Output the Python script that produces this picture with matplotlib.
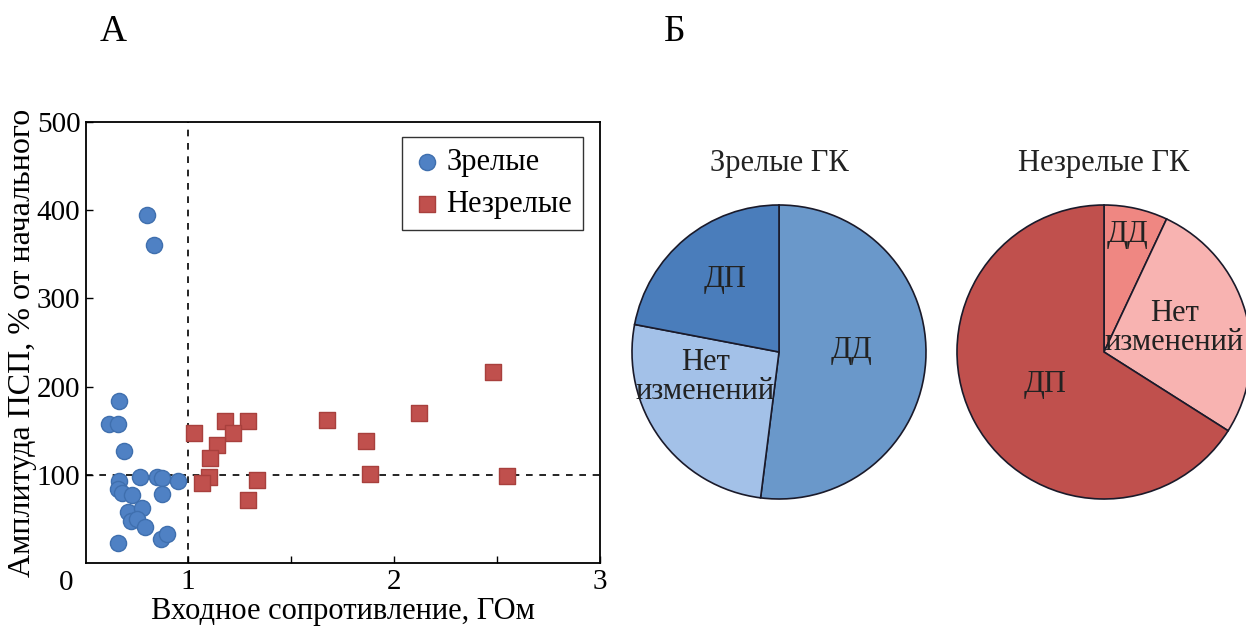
import matplotlib
matplotlib.use("Agg")
import matplotlib.pyplot as plt
from matplotlib.ticker import MultipleLocator

plt.rcParams['font.family'] = ['Liberation Serif', 'DejaVu Serif']

# ---- Data ----
mature_x = [0.80, 0.835, 0.665, 0.618, 0.662, 0.69, 0.665, 0.66, 0.68, 0.727, 0.767,
            0.851, 0.872, 0.872, 0.953, 0.71, 0.778, 0.723, 0.751, 0.791, 0.662, 0.868, 0.90]
mature_y = [395, 360, 184, 158, 158, 127, 93, 84, 79, 77, 98,
            97, 96, 78, 93, 58, 62, 48, 50, 41, 23, 27, 33]
immature_x = [1.029, 1.18, 1.29, 1.22, 1.139, 1.107, 1.103, 1.066, 1.333, 1.29,
              1.673, 1.862, 1.883, 2.123, 2.482, 2.547]
immature_y = [147, 161, 161, 147, 134, 119, 97, 91, 94, 71,
              162, 138, 101, 170, 216, 99]

xticks = [1, 2, 3]
yticks = [100, 200, 300, 400, 500]

pie_labels = ['ДД', 'Нет\nизменений', 'ДП']
mature_pie = [52, 26, 22]
immature_pie = [7, 27, 66]

blue = '#4f81c4'
red = '#c0504d'
mature_colors = ['#6a98ca', '#a3c1e8', '#4a7dbb']
immature_colors = ['#ef8782', '#f8b3b1', '#c0504d']

W, H = 1246, 630
fig = plt.figure(figsize=(W / 100, H / 100), dpi=100)
fs = 21
lfs = 22

# ---- Panel A: scatter ----
ax = fig.add_axes([86 / W, 1 - 563 / H, (600 - 86) / W, (563 - 122) / H])
ax.scatter(mature_x, mature_y, s=135, marker='o', color=blue, edgecolors='#3f6fae',
           linewidths=1.0, label='Зрелые', zorder=3)
ax.scatter(immature_x, immature_y, s=140, marker='s', color=red, edgecolors='#a8403d',
           linewidths=1.0, label='Незрелые', zorder=3)
ax.axvline(1, color='black', linestyle=(0, (4, 4)), linewidth=1.2, zorder=2)
ax.axhline(100, color='black', linestyle=(0, (4, 4)), linewidth=1.2, zorder=2)
ax.set_xlim(0.505, 3.0)
ax.set_ylim(0, 500)
ax.set_xticks(xticks)
ax.set_yticks(yticks)
ax.xaxis.set_minor_locator(MultipleLocator(0.5))
ax.tick_params(direction='in', labelsize=fs, length=5, width=1, pad=4)
ax.tick_params(which='minor', direction='in', length=5, width=1)
for sp in ax.spines.values():
    sp.set_linewidth(1.3)
ax.set_xlabel('Входное сопротивление, ГОм', fontsize=lfs, labelpad=2)
ax.set_ylabel('Амплитуда ПСП, % от начального', fontsize=lfs + 1, labelpad=0)
ax.text(-0.025, -0.015, '0', transform=ax.transAxes, fontsize=fs, ha='right', va='top')
leg = ax.legend(loc='upper right', fontsize=lfs, frameon=True, fancybox=False,
                edgecolor='black', handletextpad=0.2, borderpad=0.35,
                labelspacing=0.45, handlelength=0.9, borderaxespad=0,
                bbox_to_anchor=(0.967, 0.966))
leg.get_frame().set_linewidth(1.0)

fig.text(113 / W, 1 - 32 / H, 'А', fontsize=27, ha='center', va='center')
fig.text(675 / W, 1 - 32 / H, 'Б', fontsize=27, ha='center', va='center')

# ---- Panel Б: pies ----
R = 147
def pie_axes(cx):
    return fig.add_axes([(cx - R) / W, 1 - (352 + R) / H, 2 * R / W, 2 * R / H])

pos_m = [(0.49, 0.01, 'center'), (-0.50, -0.17, 'center'), (-0.37, 0.49, 'center')]
pos_i = [(0.16, 0.80, 'center'), (0.95, 0.16, 'right'), (-0.40, -0.22, 'center')]

for cx, vals, cols, title, pos in [(779, mature_pie, mature_colors, 'Зрелые ГК', pos_m),
                                   (1104, immature_pie, immature_colors, 'Незрелые ГК', pos_i)]:
    pa = pie_axes(cx)
    pa.pie(vals, colors=cols, startangle=90, counterclock=False,
           wedgeprops=dict(edgecolor='#1a1a2a', linewidth=1.2))
    pa.set_xlim(-1, 1)
    pa.set_ylim(-1, 1)
    pa.set_aspect('equal')
    for lab, (px, py, ha) in zip(pie_labels, pos):
        pa.text(px, py, lab, ha=ha, va='center', fontsize=lfs, multialignment='center',
                color='#222222', linespacing=1.0)
    pa.text(0, 1.285, title, ha='center', va='center', fontsize=lfs, color='#222222')

fig.savefig('out.png', dpi=100)
